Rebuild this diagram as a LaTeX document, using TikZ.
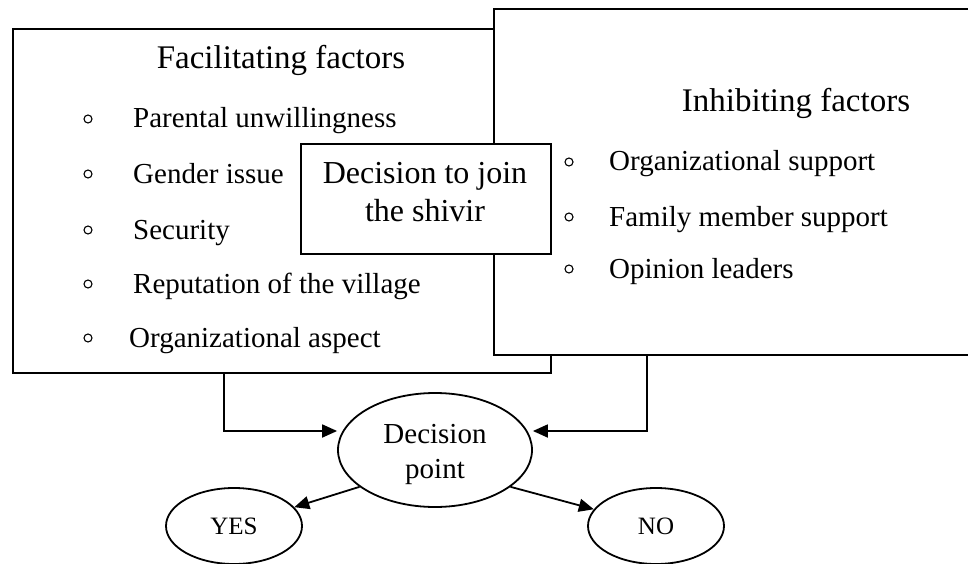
\documentclass[tikz,border=0pt]{standalone}
\usepackage{fontspec}
\setmainfont{Liberation Serif}
\usetikzlibrary{arrows.meta,shapes.geometric}
\begin{document}
\begin{tikzpicture}[x=1pt,y=-1pt,
  box/.style={draw, fill=white, line width=1.8pt, inner sep=0pt, anchor=north west},
  itemtxt/.style={anchor=base west, inner sep=0pt, font=\fontsize{29}{35}\selectfont},
  titletxt/.style={anchor=base, inner sep=0pt, font=\fontsize{33}{40}\selectfont},
  dectxt/.style={anchor=base, inner sep=0pt, font=\fontsize{32}{38}\selectfont},
  dptxt/.style={anchor=base, inner sep=0pt, font=\fontsize{29}{35}\selectfont},
  bul/.style={draw, circle, line width=1.1pt, minimum size=8pt, inner sep=0pt},
  oval/.style={draw, ellipse, line width=1.8pt, inner sep=0pt, align=center},
  arr/.style={line width=1.8pt, -{Triangle[length=15pt,width=13pt]}}
]
\useasboundingbox (0,0) rectangle (968,564);

% Facilitating factors box
\node[box, minimum width=538pt, minimum height=344pt] (fac) at (12,28) {};
\node[titletxt] (factitle) at (281,69) {Facilitating factors};
\node[bul] (fb1) at (88,119) {};
\node[bul] (fb2) at (88,174) {};
\node[bul] (fb3) at (88,230) {};
\node[bul] (fb4) at (88,284) {};
\node[bul] (fb5) at (88,338) {};
\node[itemtxt] (f1) at (133,128) {Parental unwillingness};
\node[itemtxt] (f2) at (133,183) {Gender issue};
\node[itemtxt] (f3) at (133,239) {Security};
\node[itemtxt] (f4) at (133,293) {Reputation of the village};
\node[itemtxt] (f5) at (129,347) {Organizational aspect};

% Inhibiting factors box
\node[box, minimum width=478pt, minimum height=346pt] (inh) at (493,8) {};
\node[titletxt] (inhtitle) at (796,112) {Inhibiting factors};
\node[bul] (ib1) at (569,162) {};
\node[bul] (ib2) at (569,217) {};
\node[bul] (ib3) at (569,269) {};
\node[itemtxt] (i1) at (609,171) {Organizational support};
\node[itemtxt] (i2) at (609,226) {Family member support};
\node[itemtxt] (i3) at (609,278) {Opinion leaders};

% Decision box
\node[box, minimum width=250pt, minimum height=110pt] (dec) at (300,143) {};
\node[dectxt] (dec1) at (425,183) {Decision to join};
\node[dectxt] (dec2) at (425,221) {the shivir};

% Decision point and outcomes
\node[oval, minimum width=194pt, minimum height=114pt] (dp) at (435,450) {};
\node[dptxt] (dp1) at (435,443) {Decision};
\node[dptxt] (dp2) at (435,478) {point};
\node[oval, minimum width=136pt, minimum height=76pt,
      font=\fontsize{25}{30}\selectfont] (yes) at (234,526) {YES};
\node[oval, minimum width=136pt, minimum height=76pt,
      font=\fontsize{25}{30}\selectfont] (no) at (656,526) {NO};

% Connectors
\coordinate (lc) at (224,431);
\coordinate (rc) at (647,431);
\draw[arr] (fac.south -| lc) |- (dp.west |- lc);
\draw[arr] (inh.south -| rc) |- (dp.east |- rc);
\draw[arr] (dp.206) -- (yes);
\draw[arr] (dp.334) -- (no);
\end{tikzpicture}
\end{document}
